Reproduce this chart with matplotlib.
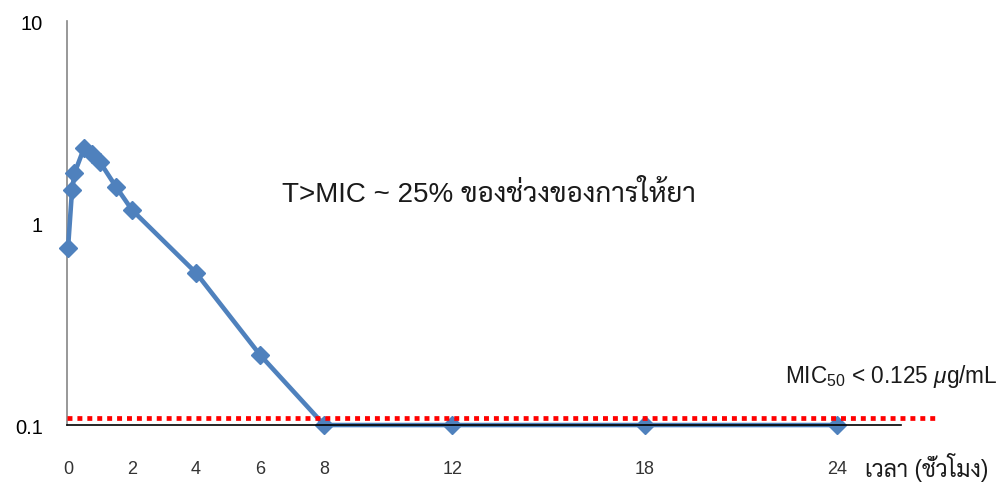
import matplotlib
matplotlib.use("Agg")
import matplotlib.pyplot as plt

plt.rcParams["font.family"] = ["Liberation Sans", "Sarabun", "DejaVu Sans"]
plt.rcParams["mathtext.fontset"] = "custom"
plt.rcParams["mathtext.rm"] = "Liberation Sans"
plt.rcParams["mathtext.it"] = "Liberation Sans:italic"
plt.rcParams["mathtext.bf"] = "Liberation Sans:bold"

# Drug concentration over time after dosing (log scale)
time_h = [0, 0.125, 0.2, 0.5, 0.75, 1, 1.5, 2, 4, 6, 8, 12, 18, 24]
conc = [0.75, 1.45, 1.76, 2.35, 2.2, 2.0, 1.51, 1.16, 0.566, 0.222, 0.1, 0.1, 0.1, 0.1]
x_ticks = [0, 2, 4, 6, 8, 12, 18, 24]
y_ticks = [0.1, 1, 10]
y_tick_labels = ["0.1", "1", "10"]
mic_level = 0.108

annotation = "T>MIC ~ 25% ของช่วงของการให้ยา"
mic_label = r"MIC$_{50}$ < 0.125 $\mu$g/mL"
x_title = "เวลา (ชั่วโมง)"

blue = "#4F81BD"

fig = plt.figure(figsize=(10.08, 4.85), dpi=100)
ax = fig.add_axes([0.0662, 0.1216, 0.8274, 0.833])

ax.plot(time_h, conc, color=blue, lw=3.3, marker="D", markersize=8.8,
        markeredgewidth=1.0, markeredgecolor=blue, markerfacecolor=blue,
        clip_on=False, zorder=3, solid_joinstyle="round")

ax.axhline(mic_level, xmin=0, xmax=1.046, color="#FF0000", lw=3.4,
           linestyle=(0, (1.05, 1.05)), dash_capstyle="butt",
           clip_on=False, zorder=6)

ax.set_yscale("log")
ax.set_ylim(0.1, 10)
ax.set_xlim(-0.04, 26.0)

ax.set_yticks(y_ticks)
ax.set_yticklabels(y_tick_labels)
ax.yaxis.set_minor_locator(matplotlib.ticker.NullLocator())
ax.set_xticks(x_ticks)
ax.set_xticklabels([str(t) for t in x_ticks])

ax.tick_params(axis="y", length=0, pad=17, labelsize=14.5, labelcolor="black")
ax.tick_params(axis="x", length=0, pad=25, labelsize=13, labelcolor="#333333")

for side in ("top", "right"):
    ax.spines[side].set_visible(False)
ax.spines["left"].set_color("#868686")
ax.spines["left"].set_linewidth(1.2)
ax.spines["bottom"].set_color("black")
ax.spines["bottom"].set_linewidth(1.2)
ax.spines["bottom"].set_zorder(5)

ax.text(0.258, 0.572, annotation, transform=ax.transAxes, ha="left",
        va="center", fontsize=20, color="#1a1a1a")

fig.text(785 / 1008, 1 - 376 / 485, mic_label, ha="left", va="center",
         fontsize=16.3, color="#1a1a1a")
fig.text(865 / 1008, 1 - 468 / 485, x_title, ha="left", va="center",
         fontsize=16.5, color="#1a1a1a")

fig.savefig("out.png", dpi=100)
